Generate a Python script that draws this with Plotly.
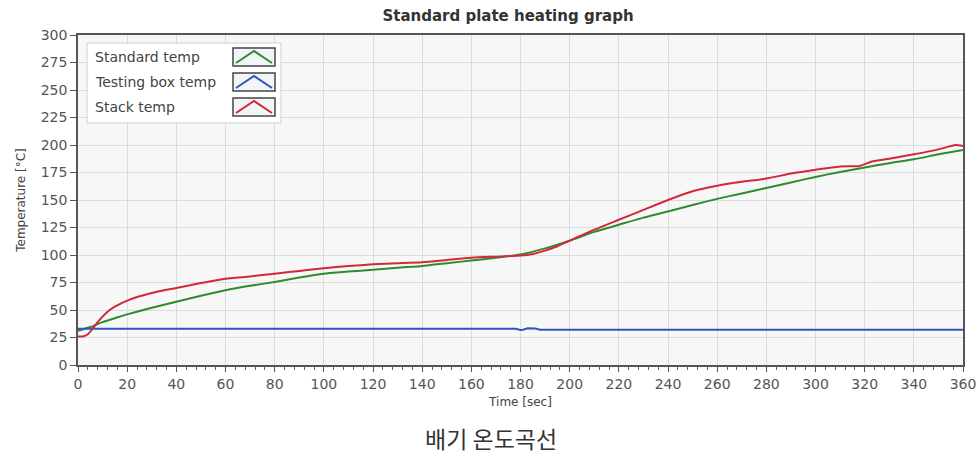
import plotly.graph_objects as go

# ---------------- data ----------------
stack_t = [0, 2, 4, 6, 8, 10, 12, 15, 20, 25, 30, 35, 40, 50, 60, 70, 80, 90, 100,
           110, 120, 130, 140, 150, 160, 170, 175, 180, 185, 190, 195, 200, 210, 220,
           230, 240, 250, 260, 270, 280, 290, 300, 310, 318, 323, 330, 340, 350, 357, 360]
stack_v = [26, 26, 28, 33, 39, 44, 48.5, 53, 58.5, 62.5, 65.5, 68, 70, 74.5, 78.5, 80.5,
           83, 85.5, 88, 90, 91.5, 92.5, 93.5, 95.5, 97.5, 98.5, 99, 99.5, 101, 104, 108,
           113, 123, 132, 141, 150, 158, 163, 166.5, 169.5, 174, 177.5, 180.5, 181, 185,
           187.5, 191.5, 196, 200, 199]

std_t = [0, 5, 10, 15, 20, 30, 40, 50, 60, 70, 80, 90, 100, 110, 120, 130, 140, 150,
         160, 170, 180, 190, 200, 210, 220, 230, 240, 250, 260, 270, 280, 290, 300, 310,
         320, 330, 340, 350, 360]
std_v = [31, 34.5, 39, 42.5, 46, 52, 57.5, 63, 68, 72, 75.5, 79.5, 83, 85, 86.5, 88.5,
         90, 92.5, 95, 97.5, 100.5, 106, 113, 121, 127.5, 134, 139.5, 145.5, 151, 156,
         161, 166, 171, 175.5, 179.5, 183.5, 187, 191.5, 195.5]

box_t = [0, 60, 120, 178, 180, 181, 183, 186, 188, 240, 300, 360]
box_v = [33, 33, 33, 33, 31.8, 32, 33.3, 33.2, 32, 32, 32, 32]

series_names = ["Standard temp", "Testing box temp", "Stack temp"]
series_colors = ["#2e8b2e", "#2f55c0", "#d3283a"]

x_ticks = list(range(0, 361, 20))
y_ticks = list(range(0, 301, 25))

title_text = "Standard plate heating graph"
x_title = "Time [sec]"
y_title = "Temperature [°C]"
caption_text = "배기 온도곡선"

# ---------------- figure ----------------
FONT = "DejaVu Sans"
fig = go.Figure()
data = [(std_t, std_v, "spline"), (box_t, box_v, "linear"), (stack_t, stack_v, "spline")]
for (t, v, shp), name, col in zip(data, series_names, series_colors):
    fig.add_trace(go.Scatter(x=t, y=v, mode="lines", name=name,
                             line=dict(color=col, width=2, shape=shp, smoothing=0.5),
                             showlegend=False))

L, R, T, B = 78, 14, 35, 93
W, H = 977, 458
pw, ph = W - L - R, H - T - B


def px(xp):
    return (xp - L) / pw


def py(yp):
    return (H - B - yp) / ph


fig.update_layout(
    width=W, height=H,
    margin=dict(l=L, r=R, t=T, b=B, autoexpand=False),
    paper_bgcolor="white",
    plot_bgcolor="#f7f7f8",
    font=dict(family=FONT, color="#444"),
    title=dict(text="<b>" + title_text + "</b>", x=508 / W, xanchor="center",
               y=1 - 16 / H, yanchor="middle",
               font=dict(family=FONT, size=15, color="#333")),
)

fig.update_xaxes(
    range=[0, 360], tickvals=x_ticks, ticks="outside", ticklen=5, tickcolor="#555",
    showgrid=True, gridcolor="#dcdcdc", gridwidth=1, automargin=False,
    showline=True, linecolor="#555", linewidth=1.5, mirror=True, zeroline=False,
    tickfont=dict(size=14, color="#555"),
    minor=dict(dtick=4, ticks="outside", ticklen=3, tickcolor="#666", showgrid=False),
    title=dict(text=x_title, font=dict(size=12, color="#444"), standoff=7),
)
fig.update_yaxes(
    range=[0, 300], tickvals=y_ticks, ticks="outside", ticklen=6, tickcolor="#555",
    showgrid=True, gridcolor="#dcdcdc", gridwidth=1, automargin=False,
    showline=True, linecolor="#555", linewidth=1.5, mirror=True, zeroline=False,
    tickfont=dict(size=14, color="#555"),
    title=dict(text=y_title, font=dict(size=12, color="#444"), standoff=13),
)

# caption
fig.add_annotation(text=caption_text, xref="paper", yref="paper",
                   x=px(491), y=py(438), xanchor="center", yanchor="middle",
                   showarrow=False,
                   font=dict(family="Noto Sans CJK KR", size=23, color="#333"))

# ---------------- custom legend (text left, boxed chevron icon right) ----------------
fig.add_shape(type="rect", xref="paper", yref="paper",
              x0=px(87), x1=px(281), y0=py(123), y1=py(43),
              fillcolor="white", line=dict(color="#cfcfcf", width=1), layer="above")
row_y = [57, 82, 107]
for name, col, yc in zip(series_names, series_colors, row_y):
    fig.add_annotation(text=name, xref="paper", yref="paper", x=px(93), y=py(yc),
                       xanchor="left", yanchor="middle", showarrow=False,
                       font=dict(family=FONT, size=14, color="#444"))
    fig.add_shape(type="rect", xref="paper", yref="paper",
                  x0=px(233), x1=px(275), y0=py(yc + 9), y1=py(yc - 9),
                  fillcolor="#f2f5f8", line=dict(color="#444", width=1.5), layer="above")
    path = "M {:.4f},{:.4f} L {:.4f},{:.4f} L {:.4f},{:.4f}".format(
        px(236), py(yc + 6), px(254), py(yc - 6), px(272), py(yc + 6))
    fig.add_shape(type="path", xref="paper", yref="paper", path=path,
                  line=dict(color=col, width=2), layer="above")

fig.write_html("out.html",
               config={"displayModeBar": False},
               post_script="document.body.style.margin='0';"
                           "document.body.style.overflow='hidden';")
